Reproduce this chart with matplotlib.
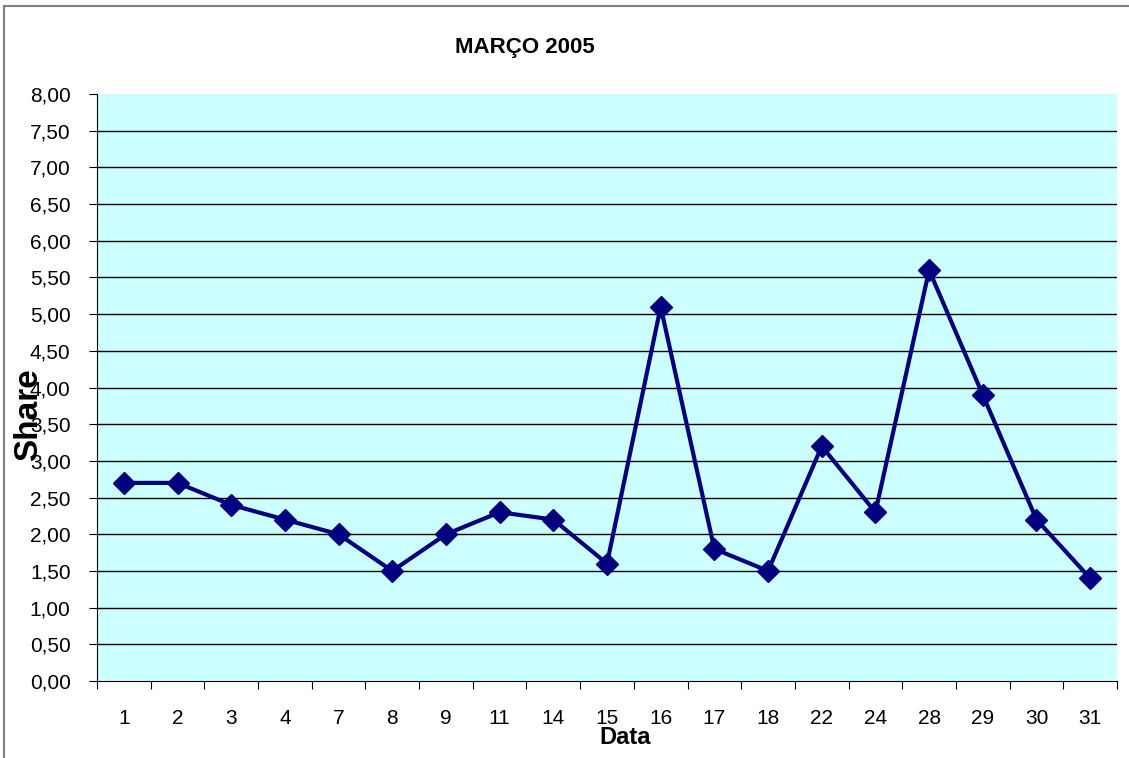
import matplotlib
matplotlib.use("Agg")
import matplotlib.pyplot as plt
from matplotlib.patches import Rectangle
import numpy as np

plt.rcParams['font.family'] = ['Liberation Sans', 'DejaVu Sans']

days = ['1', '2', '3', '4', '7', '8', '9', '11', '14', '15', '16', '17', '18', '22', '24', '28', '29', '30', '31']
share = [2.7, 2.7, 2.4, 2.2, 2.0, 1.5, 2.0, 2.3, 2.2, 1.6, 5.1, 1.8, 1.5, 3.2, 2.3, 5.6, 3.9, 2.2, 1.4]
yticks = [i * 0.5 for i in range(17)]

W, H = 1129, 758
fig = plt.figure(figsize=(W / 100, H / 100), dpi=100)
fig.patch.set_facecolor('white')

# outer border
fig.patches.append(Rectangle((4 / W, -0.1), 1.2, 1.1 - 6 / H, transform=fig.transFigure,
                             fill=False, edgecolor='#808080', linewidth=1.5))

ax = fig.add_axes([97 / W, 1 - 681 / H, (1117 - 97) / W, (681 - 94) / H])
ax.set_facecolor('#CCFFFF')

x = np.arange(len(days))
ax.plot(x, share, color='#000080', linewidth=3, marker='D', markersize=11,
        markerfacecolor='#000080', markeredgecolor='#000080', zorder=3)

ax.set_xlim(-0.5, len(days) - 0.5)
ax.set_ylim(0, 8)
ax.set_yticks(yticks)
ax.set_yticklabels([f"{v:.2f}".replace('.', ',') for v in yticks], fontsize=15)
for v in yticks[1:-1]:
    ax.axhline(v, color='black', linewidth=1, zorder=1)

ax.set_xticks(np.arange(len(days) + 1) - 0.5)
ax.set_xticklabels([])
ax.set_xticks(x, minor=True)
ax.set_xticklabels(days, minor=True, fontsize=15)
ax.tick_params(axis='x', which='minor', length=0, pad=20)
ax.tick_params(axis='x', which='major', length=6, direction='out', color='black')
ax.tick_params(axis='y', length=6, direction='out', pad=13)

for s in ['top', 'right']:
    ax.spines[s].set_visible(False)
ax.spines['left'].set_color('black')
ax.spines['bottom'].set_color('black')

fig.text(525 / W, 1 - 47 / H, 'MARÇO 2005', ha='center', va='center', fontsize=16, fontweight='bold')
fig.text(625 / W, 1 - 738 / H, 'Data', ha='center', va='center', fontsize=17, fontweight='bold')
fig.text(29 / W, 1 - 415 / H, 'Share', ha='center', va='center', rotation=90, fontsize=24, fontweight='bold')

fig.savefig('out.png', dpi=100)
